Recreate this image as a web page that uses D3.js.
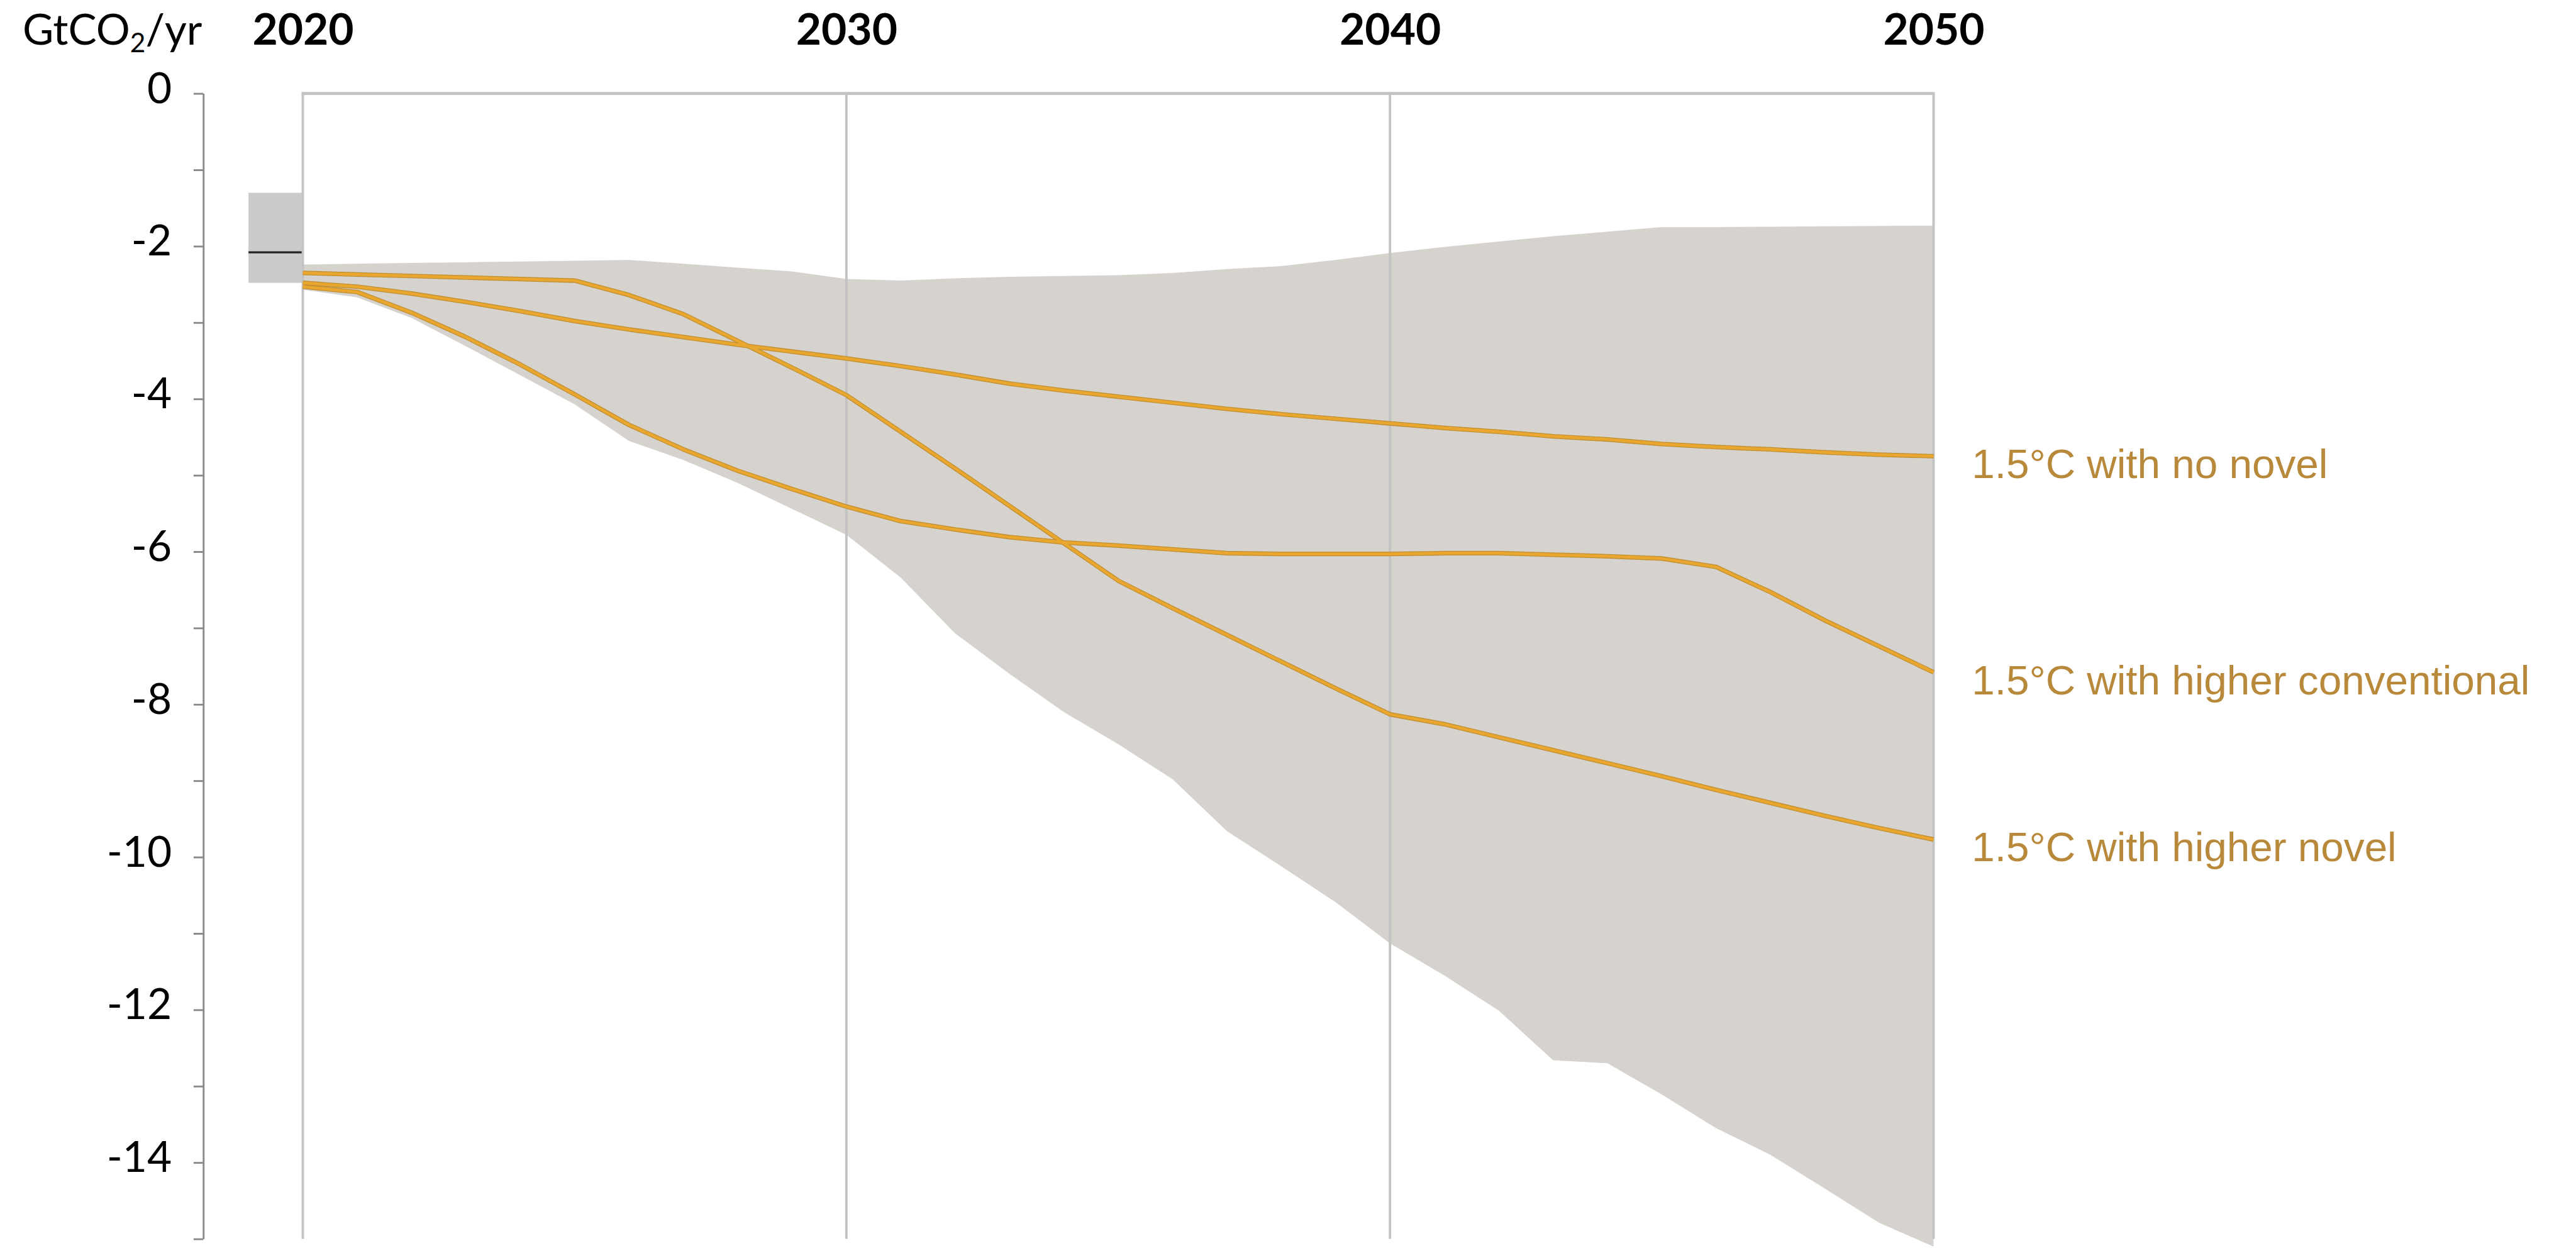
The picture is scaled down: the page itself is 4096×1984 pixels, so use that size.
<!DOCTYPE html>
<html>
<head>
<meta charset="utf-8">
<script src="https://cdn.jsdelivr.net/npm/d3@7"></script>
<style>
  html, body { margin: 0; padding: 0; background: #ffffff; }
  svg { display: block; }
</style>
</head>
<body>
<script>
// Annual CO2 removal pathways, GtCO2/yr
const years = [2020, 2021, 2022, 2023, 2024, 2025, 2026, 2027, 2028, 2029,
               2030, 2031, 2032, 2033, 2034, 2035, 2036, 2037, 2038, 2039,
               2040, 2041, 2042, 2043, 2044, 2045, 2046, 2047, 2048, 2049, 2050];

// Range of scenarios (upper and lower edge of the shaded band)
const bandUpper = [-2.24, -2.23, -2.22, -2.21, -2.20, -2.19, -2.18, -2.23, -2.28, -2.33,
                   -2.43, -2.45, -2.42, -2.40, -2.39, -2.38, -2.35, -2.30, -2.26, -2.18,
                   -2.09, -2.01, -1.94, -1.87, -1.81, -1.75, -1.75, -1.745, -1.74, -1.735, -1.73];
const bandLower = [-2.57, -2.67, -2.94, -3.31, -3.69, -4.07, -4.55, -4.80, -5.10, -5.44,
                   -5.78, -6.34, -7.07, -7.60, -8.10, -8.52, -8.98, -9.66, -10.12, -10.59,
                   -11.13, -11.55, -12.01, -12.66, -12.70, -13.11, -13.55, -13.90, -14.34, -14.79, -15.10];

// Scenario pathways
const seriesNames = ["1.5°C with no novel", "1.5°C with higher conventional", "1.5°C with higher novel"];
const noNovel = [-2.48, -2.53, -2.62, -2.73, -2.85, -2.98, -3.09, -3.19, -3.29, -3.38,
                 -3.47, -3.57, -3.68, -3.80, -3.89, -3.97, -4.05, -4.13, -4.20, -4.26,
                 -4.32, -4.38, -4.43, -4.49, -4.53, -4.59, -4.63, -4.66, -4.70, -4.73, -4.75];
const higherConventional = [-2.53, -2.60, -2.87, -3.19, -3.55, -3.94, -4.34, -4.66, -4.94, -5.18,
                            -5.41, -5.60, -5.71, -5.81, -5.88, -5.92, -5.97, -6.02, -6.03, -6.03,
                            -6.03, -6.02, -6.02, -6.04, -6.06, -6.09, -6.20, -6.53, -6.90, -7.24, -7.58];
const higherNovel = [-2.35, -2.37, -2.39, -2.41, -2.43, -2.45, -2.64, -2.89, -3.24, -3.59,
                     -3.95, -4.43, -4.91, -5.40, -5.89, -6.38, -6.74, -7.09, -7.44, -7.79,
                     -8.13, -8.26, -8.43, -8.60, -8.77, -8.94, -9.12, -9.29, -9.46, -9.62, -9.77];

// Current removals (2019-2020 range and central estimate)
const currentYears = [2019, 2020];
const currentRange = [-2.48, -1.30];
const currentCentral = -2.08;

// Axis ticks
const xTickLabels = [2020, 2030, 2040, 2050];
const yTicks = [0, -1, -2, -3, -4, -5, -6, -7, -8, -9, -10, -11, -12, -13, -14, -15];
const yTickLabels = [0, -2, -4, -6, -8, -10, -12, -14];
const unitLabel = "GtCO";

const W = 4096, H = 1984, S = 0.965;

const svg = d3.select("body").append("svg")
  .attr("width", W).attr("height", H);
const g = svg.append("g").attr("transform", `scale(${S})`);

const x = d3.scaleLinear().domain([2020, 2050]).range([499, 3186]);
const y = d3.scaleLinear().domain([0, -15]).range([154, 2041]);

const bandData = years.map((yr, i) => ({ yr, hi: bandUpper[i], lo: bandLower[i] }));

// Shaded scenario range
g.append("path")
  .datum(bandData)
  .attr("fill", "#d6d3ce")
  .attr("d", d3.area()
    .x(d => x(d.yr))
    .y0(d => y(d.lo))
    .y1(d => y(d.hi)));

// Current removals box and central line
g.append("rect")
  .attr("x", x(currentYears[0]))
  .attr("width", x(currentYears[1]) - x(currentYears[0]))
  .attr("y", y(currentRange[1]))
  .attr("height", y(currentRange[0]) - y(currentRange[1]))
  .attr("fill", "#cbcbcb");
g.append("line")
  .attr("x1", x(currentYears[0])).attr("x2", x(currentYears[1]))
  .attr("y1", y(currentCentral)).attr("y2", y(currentCentral))
  .attr("stroke", "#222222").attr("stroke-width", 3.5);

// Vertical decade gridlines and top border
g.append("g").selectAll("line")
  .data(xTickLabels)
  .join("line")
  .attr("x1", d => x(d)).attr("x2", d => x(d))
  .attr("y1", y(0)).attr("y2", y(-15))
  .attr("stroke", "#c3c3c3").attr("stroke-width", 4);
g.append("line")
  .attr("x1", x(2020) - 2).attr("x2", x(2050) + 2)
  .attr("y1", y(0)).attr("y2", y(0))
  .attr("stroke", "#c3c3c3").attr("stroke-width", 5);

// Pathway lines: darker edge under a brighter core
const line = d3.line().x((d, i) => x(years[i])).y(d => y(d)).curve(d3.curveLinear);
const seriesValues = [noNovel, higherConventional, higherNovel];
const lines = g.append("g");
lines.selectAll("path.edge")
  .data(seriesValues)
  .join("path")
  .attr("class", "edge")
  .attr("fill", "none")
  .attr("stroke", "#c08f33")
  .attr("stroke-width", 7.5)
  .attr("stroke-linejoin", "round")
  .attr("d", line);
lines.selectAll("path.core")
  .data(seriesValues)
  .join("path")
  .attr("class", "core")
  .attr("fill", "none")
  .attr("stroke", "#e9a72f")
  .attr("stroke-width", 4.8)
  .attr("stroke-linejoin", "round")
  .attr("d", line);

// Series labels at the right end of each line
g.append("g").selectAll("text")
  .data(seriesNames)
  .join("text")
  .attr("x", 3249)
  .attr("y", (d, i) => y(seriesValues[i][seriesValues[i].length - 1]) + 36)
  .attr("font-family", "'Liberation Sans', Arial, sans-serif")
  .attr("font-size", 68)
  .attr("fill", "#b8893a")
  .text(d => d);

// Left value axis
const yAxis = d3.axisLeft(y)
  .tickValues(yTicks)
  .tickSize(16)
  .tickSizeOuter(0)
  .tickPadding(36)
  .tickFormat(d => yTickLabels.includes(d) ? String(d) : "");
const yAxisG = g.append("g")
  .attr("transform", `translate(335,0)`)
  .call(yAxis);
yAxisG.select(".domain").attr("stroke", "#8a8a8a").attr("stroke-width", 3);
yAxisG.selectAll(".tick line").attr("stroke", "#8a8a8a").attr("stroke-width", 3);
yAxisG.selectAll(".tick text")
  .attr("dy", null)
  .attr("y", 15)
  .attr("font-family", "Lato, sans-serif")
  .attr("font-size", 70)
  .attr("fill", "#000000");

// Top year axis
const xAxis = d3.axisTop(x)
  .tickValues(xTickLabels)
  .tickSize(0)
  .tickPadding(0)
  .tickFormat(d3.format("d"));
const xAxisG = g.append("g")
  .attr("transform", `translate(0,74)`)
  .call(xAxis);
xAxisG.select(".domain").remove();
xAxisG.selectAll(".tick text")
  .attr("dy", null)
  .attr("y", 0)
  .attr("font-family", "Lato, sans-serif")
  .attr("font-weight", 700)
  .attr("font-size", 72)
  .attr("fill", "#000000");

// Unit label
const unit = g.append("text")
  .attr("x", 333)
  .attr("y", 74)
  .attr("text-anchor", "end")
  .attr("font-family", "Lato, sans-serif")
  .attr("font-size", 70)
  .attr("fill", "#000000");
unit.append("tspan").text(unitLabel);
unit.append("tspan").attr("font-size", 44).attr("dy", 12).text("2");
unit.append("tspan").attr("dy", -12).text("/yr");
</script>
</body>
</html>
